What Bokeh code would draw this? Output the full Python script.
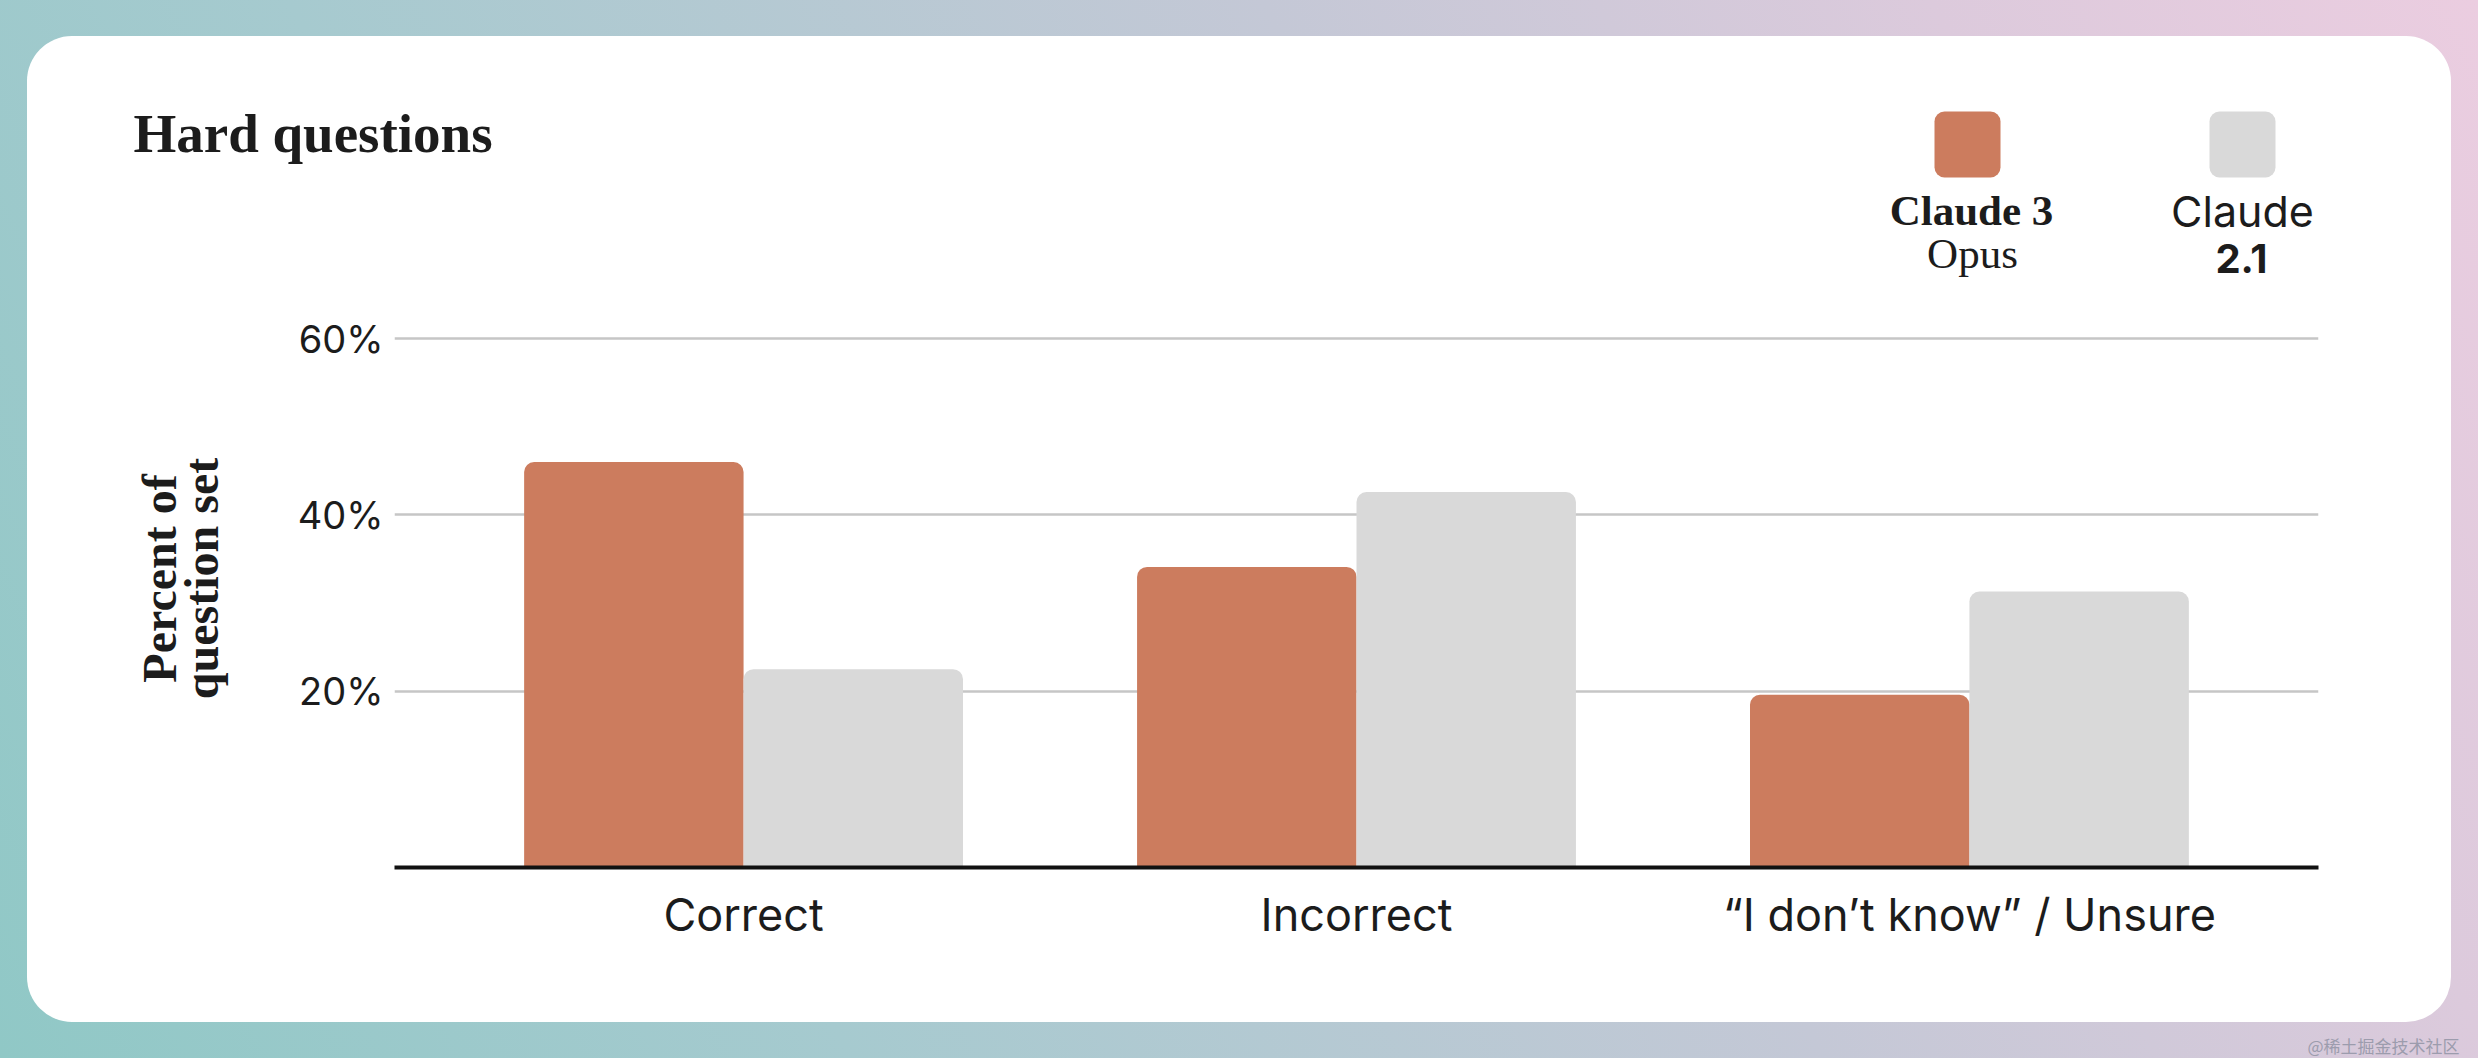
from bokeh.plotting import figure
from bokeh.layouts import column
from bokeh.models import (ColumnDataSource, FactorRange, Range1d, FixedTicker,
                          PrintfTickFormatter, Label, BoxAnnotation)
from bokeh.transform import dodge
from bokeh.embed import file_html
from bokeh.resources import INLINE

# ---------------- data ----------------
title_text = "Hard questions"
categories = ["Correct", "Incorrect", "\u201cI don\u2019t know\u201d / Unsure"]
series_opus = ["Claude 3", "Opus"]
series_21 = ["Claude", "2.1"]
opus_values = [46.0, 34.1, 19.6]
claude21_values = [22.5, 42.6, 31.3]
y_ticks = [20, 40, 60]
y_label = "Percent of\nquestion set"
watermark = "@\u7a00\u571f\u6398\u91d1\u6280\u672f\u793e\u533a"

# ---------------- style / layout ----------------
PAGE_W, PAGE_H = 2478, 1058
CARD_L, CARD_T, CARD_W, CARD_H = 27, 36, 2424, 986
HEAD_H = 253
CHART_H = CARD_H - HEAD_H
FL, FR, FB = 367, 2291, 578          # chart frame in chart-figure px
PX_PER_PCT = 8.815
OPUS_COLOR = "#CC7C5E"
C21_COLOR = "#D9D9D9"
SANS = "Inter"
SERIF = "Liberation Serif"
TXT = "#1c1c1c"
DY = -15                              # label baseline correction

source = ColumnDataSource(dict(cat=categories, opus=opus_values, c21=claude21_values))

def lab(fig, x, y, text, font, size, style="normal", align="center", color=TXT):
    fig.add_layout(Label(x=x, y=y + DY, text=text, x_units="canvas", y_units="canvas",
                         text_font=font, text_font_size=size, text_font_style=style,
                         text_align=align, text_baseline="alphabetic",
                         text_color=color))

def box(fig, l, r, t, b, color, radius):
    fig.add_layout(BoxAnnotation(left=l, right=r, top=t, bottom=b,
                                 left_units="canvas", right_units="canvas",
                                 top_units="canvas", bottom_units="canvas",
                                 fill_color=color, fill_alpha=1.0, line_color=None,
                                 border_radius=radius))

def blank(w, h, **kw):
    f = figure(width=w, height=h, x_range=Range1d(0, 1), y_range=Range1d(0, 1),
               output_backend="svg", toolbar_location=None,
               x_axis_location=None, y_axis_location=None, min_border=0, **kw)
    f.grid.visible = False
    f.border_fill_color = None
    f.background_fill_color = None
    f.outline_line_color = None
    return f

# ---------- header (title + legend) ----------
head = blank(CARD_W, HEAD_H)
lab(head, 106, 112, title_text, SERIF, "55px", "bold", "left")
box(head, 1907, 1973, 75, 141, OPUS_COLOR, 10)
box(head, 2182, 2248, 75, 141, C21_COLOR, 10)
lab(head, 1944, 189, series_opus[0], SERIF, "43px", "bold")
lab(head, 1945, 232, series_opus[1], SERIF, "43px", "normal")
lab(head, 2215, 189, series_21[0], SANS, "43px", "normal")
lab(head, 2214, 237, series_21[1], SANS, "40px", "bold")

# ---------- chart ----------
p = figure(width=CARD_W, height=CHART_H,
           x_range=FactorRange(*categories, range_padding=0.0695, range_padding_units="absolute"),
           y_range=Range1d(0, FB / PX_PER_PCT),
           output_backend="svg", toolbar_location=None,
           min_border_left=FL, min_border_right=CARD_W - FR,
           min_border_top=0, min_border_bottom=CHART_H - FB)
p.border_fill_color = None
p.background_fill_color = None
p.outline_line_color = None

BW = 0.358
p.vbar(x=dodge("cat", -BW / 2, range=p.x_range), top="opus", bottom=0, width=BW,
       source=source, fill_color=OPUS_COLOR, line_color=None,
       border_radius=(10, 10, 0, 0))
p.vbar(x=dodge("cat", BW / 2, range=p.x_range), top="c21", bottom=0, width=BW,
       source=source, fill_color=C21_COLOR, line_color=None,
       border_radius=(10, 10, 0, 0))

p.yaxis.ticker = FixedTicker(ticks=y_ticks)
p.yaxis.formatter = PrintfTickFormatter(format="%d%%")
p.yaxis.axis_line_color = None
p.yaxis.major_tick_line_color = None
p.yaxis.minor_tick_line_color = None
p.yaxis.major_label_standoff = 5
p.yaxis.major_label_text_font = SANS
p.yaxis.major_label_text_font_size = "38px"
p.yaxis.major_label_text_color = TXT
p.yaxis.axis_label = y_label
p.yaxis.axis_label_text_font = SERIF
p.yaxis.axis_label_text_font_size = "48px"
p.yaxis.axis_label_text_font_style = "bold"
p.yaxis.axis_label_text_color = TXT
p.yaxis.axis_label_text_line_height = 0.78
p.yaxis.axis_label_standoff = 67

p.xaxis.axis_line_color = "#111111"
p.xaxis.axis_line_width = 4
p.xaxis.major_tick_line_color = None
p.xaxis.minor_tick_line_color = None
p.xaxis.major_label_standoff = 13
p.xaxis.major_label_text_font = SANS
p.xaxis.major_label_text_font_size = "45px"
p.xaxis.major_label_text_color = TXT

p.xgrid.grid_line_color = None
p.ygrid.grid_line_color = "#C6C6C6"
p.ygrid.grid_line_width = 2.5

card = column(column(head), column(p), margin=(CARD_T, PAGE_W - CARD_L - CARD_W, 0, CARD_L),
              styles={"background-color": "white", "border-radius": "45px",
                      "overflow": "hidden"})

# ---------- footer (watermark) ----------
FOOT_W = PAGE_W - CARD_L
FOOT_H = PAGE_H - CARD_T - CARD_H
foot = blank(FOOT_W, FOOT_H, margin=(0, 0, 0, CARD_L))
lab(foot, 2280, 38, watermark, "Noto Sans CJK SC", "17px", "normal", "left", "#9c9cad")

page = column(card, foot, width=PAGE_W, height=PAGE_H, spacing=0,
              styles={"background-image":
                      "linear-gradient(62deg, #90c8c6 0%, #a6cacf 28%, #c4c8d6 60%, #dccadc 82%, #ebcde0 100%)"})

open("out.html", "w").write(file_html(page, INLINE))
